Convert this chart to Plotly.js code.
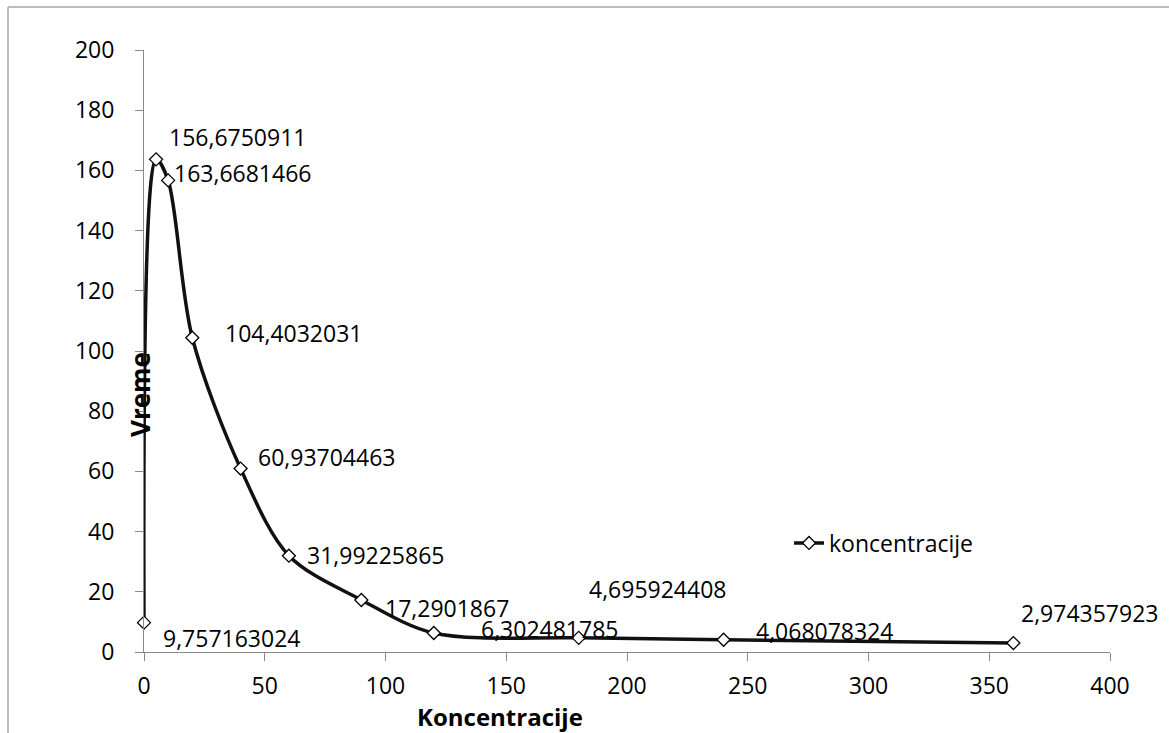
<!DOCTYPE html>
<html>
<head>
<meta charset="utf-8">
<script src="https://cdn.plot.ly/plotly-3.0.1.min.js"></script>
<style>
  html, body { margin: 0; padding: 0; background: #ffffff; }
  #chart { width: 1169px; height: 733px; }
</style>
</head>
<body>
<div id="chart"></div>
<script>
// Time (x) and measured concentration (y) series
const xValues = [0, 5, 10, 20, 40, 60, 90, 120, 180, 240, 360];
const yValues = [9.757163024, 163.6681466, 156.6750911, 104.4032031, 60.93704463,
                 31.99225865, 17.2901867, 6.302481785, 4.695924408, 4.068078324, 2.974357923];
const seriesName = 'koncentracije';
const xTickVals = [0, 50, 100, 150, 200, 250, 300, 350, 400];
const yTickVals = [0, 20, 40, 60, 80, 100, 120, 140, 160, 180, 200];
const xTitle = 'Koncentracije';
const yTitle = 'Vreme';

// Pixel offsets of each data label from its marker (left edge, vertical centre)
const labelDx = [17, 16, -1, 31, 15, 16, 22, 45, 8, 30, 6];
const labelDy = [15, 14, -43, -5, -12, -1, 8, -4, -49, -9, -30];

const W = 1169, H = 733;
const M = { l: 144, r: 59, t: 50, b: 81 };
const plotW = W - M.l - M.r, plotH = H - M.t - M.b;
const px2paperX = p => (p - M.l) / plotW;
const px2paperY = p => (H - M.b - p) / plotH;

const FONT = '"Open Sans", "Liberation Sans", sans-serif';
const AXIS_GREY = '#898989';

const fmt = v => String(v).replace('.', ',');

const annotations = xValues.map((x, i) => ({
  x: x, y: yValues[i], xref: 'x', yref: 'y',
  text: fmt(yValues[i]),
  showarrow: false, xanchor: 'left', yanchor: 'middle',
  xshift: labelDx[i], yshift: -labelDy[i],
  font: { family: FONT, size: 23, color: '#000000' }
}));

// Axis titles
annotations.push({
  x: px2paperX(500), y: px2paperY(716), xref: 'paper', yref: 'paper',
  text: '<b>' + xTitle + '</b>', showarrow: false,
  xanchor: 'center', yanchor: 'middle',
  font: { family: FONT, size: 24, color: '#000000' }
});
annotations.push({
  x: px2paperX(140), y: px2paperY(395), xref: 'paper', yref: 'paper',
  text: '<b>' + yTitle + '</b>', showarrow: false, textangle: -90,
  xanchor: 'center', yanchor: 'middle',
  font: { family: FONT, size: 26, color: '#000000' }
});

const trace = {
  x: xValues, y: yValues, name: seriesName,
  type: 'scatter', mode: 'lines+markers',
  line: { color: '#111111', width: 3.5, shape: 'spline', smoothing: 0.9 },
  marker: { symbol: 'diamond', size: 10, color: '#ffffff',
            line: { color: '#000000', width: 1.3 } },
  cliponaxis: false
};

const layout = {
  width: W, height: H,
  margin: M,
  paper_bgcolor: '#ffffff', plot_bgcolor: '#ffffff',
  font: { family: FONT, size: 23, color: '#000000' },
  showlegend: true,
  legend: {
    x: px2paperX(789), y: px2paperY(543), xanchor: 'left', yanchor: 'middle',
    bgcolor: 'rgba(0,0,0,0)', borderwidth: 0,
    font: { family: FONT, size: 23, color: '#000000' },
    itemwidth: 30
  },
  xaxis: {
    range: [0, 400], tickvals: xTickVals, ticktext: xTickVals.map(String),
    showgrid: false, zeroline: false,
    showline: true, linecolor: AXIS_GREY, linewidth: 1,
    ticks: 'outside', ticklen: 8, tickcolor: AXIS_GREY, tickwidth: 1,
    ticklabelstandoff: 5,
    tickfont: { family: FONT, size: 23, color: '#000000' },
    fixedrange: true
  },
  yaxis: {
    range: [0, 200], tickvals: yTickVals, ticktext: yTickVals.map(String),
    showgrid: false, zeroline: false,
    showline: true, linecolor: AXIS_GREY, linewidth: 1,
    ticks: 'outside', ticklen: 8, tickcolor: AXIS_GREY, tickwidth: 1,
    ticklabelstandoff: 16,
    tickfont: { family: FONT, size: 23, color: '#000000' },
    fixedrange: true
  },
  annotations: annotations,
  shapes: [
    { type: 'line', xref: 'paper', yref: 'paper',
      x0: px2paperX(8), x1: px2paperX(W + 2), y0: px2paperY(7), y1: px2paperY(7),
      line: { color: '#a6a6a6', width: 1.5 } },
    { type: 'line', xref: 'paper', yref: 'paper',
      x0: px2paperX(8), x1: px2paperX(8), y0: px2paperY(7), y1: px2paperY(H + 2),
      line: { color: '#a6a6a6', width: 1.5 } }
  ]
};

Plotly.newPlot('chart', [trace], layout, { displayModeBar: false, staticPlot: true });
</script>
</body>
</html>
